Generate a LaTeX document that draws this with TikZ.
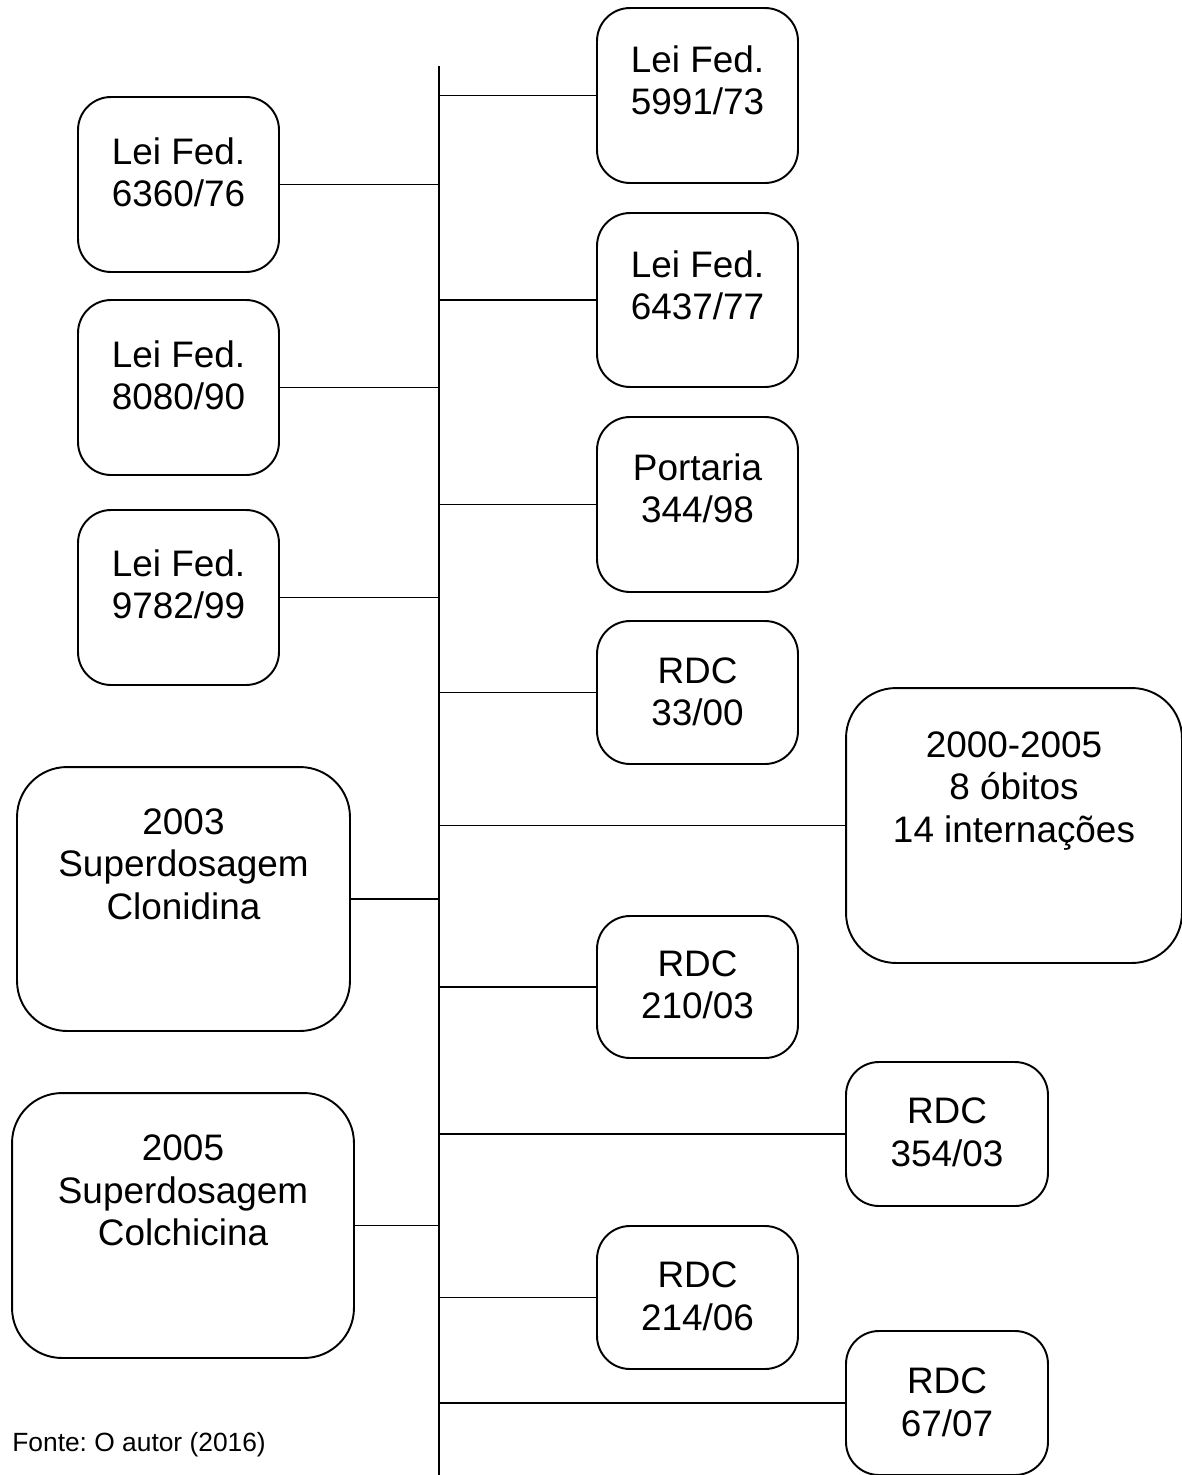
\documentclass[tikz,border=0pt]{standalone}
\usepackage{fontspec}
\setmainfont{Liberation Sans}
\frenchspacing

\tikzset{
  caixa/.style={draw=black, line width=1.1pt, rectangle, rounded corners=0.66cm, inner sep=0pt, outer sep=0pt, minimum width=4.02cm},
  caixagrande/.style={caixa, rounded corners=1cm},
  texto/.style={anchor=north, inner sep=0pt, align=center, font=\fontsize{21}{24.4}\selectfont},
  linha/.style={draw=black, line width=1.1pt},
}

\begin{document}
\begin{tikzpicture}[x=0.02cm,y=-0.02cm]
\useasboundingbox (0,0) rectangle (1182,1475);
\coordinate (topo) at (439,66);
\coordinate (base) at (439,1475);
\draw[linha] (topo) -- (base);%timeline

\node[caixa, minimum height=3.5cm] (l6360) at (178.5,184.5) {};%left, first
\node[texto] (t6360) at (178.5,137) {Lei Fed.\\6360/76};
\node[caixa, minimum height=3.5cm] (l8080) at (178.5,387.5) {};%left, second
\node[texto] (t8080) at (178.5,340) {Lei Fed.\\8080/90};
\node[caixa, minimum height=3.5cm] (l9782) at (178.5,597.5) {};%left, third
\node[texto] (t9782) at (178.5,549) {Lei Fed.\\9782/99};
\node[caixagrande, minimum width=6.66cm, minimum height=5.28cm] (c2003) at (183.5,899) {};%left, big
\node[texto] (t2003) at (183.5,808) {2003\\Superdosagem\\Clonidina};
\node[caixagrande, minimum width=6.84cm, minimum height=5.3cm] (c2005) at (183,1225.5) {};%left, big
\node[texto] (t2005) at (183,1134) {2005\\Superdosagem\\Colchicina};

\node[caixa, minimum height=3.5cm] (l5991) at (697.5,95.5) {};%right
\node[texto] (t5991) at (697.5,45) {Lei Fed.\\5991/73};
\node[caixa, minimum height=3.48cm] (l6437) at (697.5,300) {};%right
\node[texto] (t6437) at (697.5,250) {Lei Fed.\\6437/77};
\node[caixa, minimum height=3.5cm] (p344) at (697.5,504.5) {};%right
\node[texto] (t344) at (697.5,453) {Portaria\\344/98};
\node[caixa, minimum height=2.86cm] (rdc33) at (697.5,692.5) {};%right
\node[texto] (t33) at (697.5,657) {RDC\\33/00};
\node[caixagrande, minimum width=6.72cm, minimum height=5.5cm] (obitos) at (1014,825.5) {};%far right, big
\node[texto] (tobitos) at (1014,731) {2000-2005\\8 óbitos\\14 internações};
\node[caixa, minimum height=2.84cm] (rdc210) at (697.5,987) {};%right
\node[texto] (t210) at (697.5,950) {RDC\\210/03};
\node[caixa, minimum width=4.04cm, minimum height=2.88cm] (rdc354) at (947,1134) {};%far right
\node[texto] (t354) at (947,1097) {RDC\\354/03};
\node[caixa, minimum height=2.86cm] (rdc214) at (697.5,1297.5) {};%right
\node[texto] (t214) at (697.5,1261) {RDC\\214/06};
\node[caixa, minimum width=4.04cm, minimum height=2.88cm] (rdc67) at (947,1403) {};%far right
\node[texto] (t67) at (947,1367) {RDC\\67/07};

\draw[linha] (l6360.east) -- (l6360.east -| topo);
\draw[linha] (l8080.east) -- (l8080.east -| topo);
\draw[linha] (l9782.east) -- (l9782.east -| topo);
\draw[linha] (c2003.east) -- (c2003.east -| topo);
\draw[linha] (c2005.east) -- (c2005.east -| topo);

\draw[linha] (topo |- l5991.west) -- (l5991.west);
\draw[linha] (topo |- l6437.west) -- (l6437.west);
\draw[linha] (topo |- p344.west) -- (p344.west);
\draw[linha] (topo |- rdc33.west) -- (rdc33.west);
\draw[linha] (topo |- obitos.west) -- (obitos.west);
\draw[linha] (topo |- rdc210.west) -- (rdc210.west);
\draw[linha] (topo |- rdc354.west) -- (rdc354.west);
\draw[linha] (topo |- rdc214.west) -- (rdc214.west);
\draw[linha] (topo |- rdc67.west) -- (rdc67.west);

\node[anchor=base west, inner sep=0pt, font=\fontsize{15}{18}\selectfont] (fonte) at (12,1451) {Fonte: O autor (2016)};
\end{tikzpicture}
\end{document}
